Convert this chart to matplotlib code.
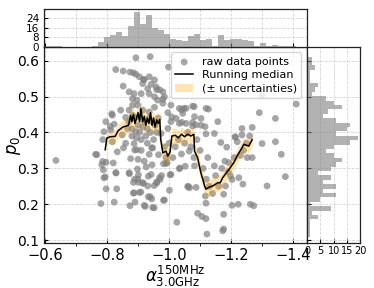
import numpy as np
import matplotlib
matplotlib.use('Agg')
from matplotlib import pyplot as plt

# raw data points (alpha index, p0)
alpha_pts = [-0.893, -0.939, -0.998, -0.828, -0.852, -0.874, -0.885, -0.893, -0.917, -0.852,
             -0.871, -0.887, -0.882, -0.896, -0.882, -0.871, -0.844, -0.817, -0.86, -0.796,
             -0.823, -0.882, -0.79, -0.812, -0.849, -0.893, -0.866, -0.887, -0.817, -0.96,
             -0.98, -1.041, -1.048, -1.009, -0.815, -0.81, -0.786, -0.853, -0.896, -0.944,
             -0.966, -0.635, -0.767, -0.786, -0.82, -0.783, -0.797, -0.788, -0.794, -0.829,
             -0.797, -0.831, -0.872, -0.898, -0.901, -0.885, -0.901, -0.887, -0.909, -0.917,
             -0.926, -0.933, -0.952, -0.96, -0.971, -0.976, -0.982, -0.99, -1.003, -1.001,
             -0.933, -0.944, -0.952, -0.89, -0.874, -0.923, -0.982, -1.025, -0.78, -0.823,
             -1.035, -1.052, -1.062, -0.763, -0.833, -0.876, -0.889, -0.828, -0.871, -0.79,
             -0.889, -0.9, -0.885, -0.947, -0.936, -0.942, -0.969, -0.96, -0.931, -0.915,
             -0.904, -0.939, -0.92, -0.947, -0.985, -1.006, -0.994, -1.033, -1.06, -1.066,
             -1.087, -1.119, -1.117, -1.092, -1.106, -1.119, -1.122, -1.173, -1.125, -1.146,
             -1.082, -1.065, -1.012, -1.3, -1.362, -1.375, -1.316, -1.238, -1.225, -1.203,
             -1.182, -1.176, -1.203, -1.223, -1.262, -1.273, -1.176, -1.176, -1.252, -1.268,
             -1.23, -1.193, -1.198, -1.3, -1.41, -1.291, -1.343, -1.235, -1.268, -1.235,
             -1.214, -1.22, -1.343, -1.081, -1.127, -1.041, -1.076, -1.087, -1.116, -1.213,
             -1.167, -1.186, -0.904, -0.92, -0.936, -0.953, -0.915, -0.942, -0.931, -0.958,
             -0.969, -0.91, -0.936, -0.953, -0.98, -0.985, -0.963, -0.98, -1.006, -1.033,
             -1.055, -1.076, -1.119, -1.044, -0.996, -1.023, -1.082, -1.103, -1.006, -1.033,
             -1.055, -1.076, -1.103, -1.157, -1.119, -1.146, -0.996, -0.974, -0.899, -0.915,
             -0.936, -0.904, -0.953, -0.87, -0.88, -0.89, -0.9, -0.905, -0.91, -0.915,
             -0.92, -0.925, -0.93, -0.935, -0.94, -0.945, -0.95, -0.955, -0.96, -0.965,
             -0.895, -0.88, -0.86, -0.9, -0.92, -0.945, -0.91, -0.93, -0.985, -0.99,
             -1.0, -1.02, -1.03, -1.05, -1.06, -1.07, -1.09, -1.1, -1.11, -1.12,
             -1.13, -1.14, -1.15, -1.16, -1.17, -1.18, -1.19, -1.21, -1.24, -1.25,
             -1.26, -1.08, -1.04]
p0_pts = [0.608, 0.611, 0.582, 0.575, 0.571, 0.568, 0.566, 0.562, 0.548, 0.529,
          0.513, 0.508, 0.494, 0.49, 0.476, 0.462, 0.462, 0.448, 0.442, 0.43,
          0.423, 0.448, 0.402, 0.407, 0.393, 0.402, 0.411, 0.369, 0.374, 0.519,
          0.493, 0.463, 0.467, 0.443, 0.452, 0.417, 0.38, 0.357, 0.352, 0.357,
          0.338, 0.322, 0.338, 0.319, 0.315, 0.31, 0.317, 0.296, 0.276, 0.287,
          0.243, 0.243, 0.285, 0.298, 0.282, 0.261, 0.261, 0.232, 0.234, 0.258,
          0.304, 0.278, 0.252, 0.259, 0.269, 0.28, 0.313, 0.313, 0.282, 0.239,
          0.221, 0.215, 0.19, 0.206, 0.196, 0.194, 0.211, 0.15, 0.202, 0.206,
          0.301, 0.306, 0.25, 0.339, 0.346, 0.327, 0.351, 0.288, 0.288, 0.274,
          0.27, 0.27, 0.231, 0.357, 0.339, 0.283, 0.274, 0.262, 0.251, 0.26,
          0.233, 0.221, 0.197, 0.191, 0.212, 0.283, 0.316, 0.299, 0.249, 0.246,
          0.247, 0.203, 0.223, 0.175, 0.166, 0.16, 0.117, 0.126, 0.33, 0.307,
          0.307, 0.348, 0.33, 0.369, 0.339, 0.277, 0.251, 0.256, 0.274, 0.269,
          0.251, 0.228, 0.197, 0.2, 0.2, 0.196, 0.172, 0.131, 0.33, 0.33,
          0.336, 0.316, 0.279, 0.504, 0.479, 0.455, 0.439, 0.411, 0.414, 0.393,
          0.386, 0.374, 0.374, 0.472, 0.465, 0.428, 0.428, 0.421, 0.416, 0.388,
          0.372, 0.359, 0.555, 0.547, 0.555, 0.546, 0.536, 0.534, 0.522, 0.527,
          0.519, 0.508, 0.508, 0.499, 0.513, 0.499, 0.49, 0.481, 0.476, 0.467,
          0.467, 0.473, 0.467, 0.453, 0.455, 0.439, 0.444, 0.439, 0.43, 0.425,
          0.425, 0.418, 0.42, 0.43, 0.396, 0.397, 0.411, 0.397, 0.476, 0.462,
          0.457, 0.444, 0.47, 0.43, 0.41, 0.44, 0.42, 0.4, 0.38, 0.415,
          0.43, 0.39, 0.41, 0.44, 0.4, 0.43, 0.38, 0.42, 0.4, 0.44,
          0.385, 0.39, 0.37, 0.325, 0.32, 0.31, 0.35, 0.37, 0.36, 0.33,
          0.37, 0.36, 0.38, 0.37, 0.4, 0.36, 0.38, 0.35, 0.3, 0.27,
          0.25, 0.23, 0.28, 0.25, 0.3, 0.32, 0.29, 0.33, 0.35, 0.37,
          0.39, 0.33, 0.34]

# running median and its uncertainty
med_alpha = [-0.794, -0.799, -0.81, -0.826, -0.836, -0.851, -0.869, -0.876, -0.88, -0.885,
             -0.89, -0.895, -0.9, -0.905, -0.909, -0.915, -0.92, -0.925, -0.93, -0.935,
             -0.94, -0.945, -0.95, -0.955, -0.96, -0.965, -0.97, -0.973, -0.98, -0.99,
             -0.996, -1.003, -1.009, -1.02, -1.03, -1.04, -1.05, -1.06, -1.07, -1.08,
             -1.082, -1.092, -1.1, -1.105, -1.109, -1.115, -1.119, -1.13, -1.141, -1.157,
             -1.165, -1.173, -1.193, -1.209, -1.219, -1.235, -1.241, -1.257, -1.268]
med_p0 = [0.352, 0.384, 0.388, 0.389, 0.405, 0.415, 0.42, 0.447, 0.43, 0.45,
          0.425, 0.44, 0.455, 0.43, 0.466, 0.43, 0.445, 0.42, 0.44, 0.425,
          0.455, 0.42, 0.44, 0.415, 0.435, 0.425, 0.436, 0.38, 0.343, 0.348,
          0.334, 0.345, 0.39, 0.392, 0.385, 0.395, 0.388, 0.395, 0.39, 0.395,
          0.348, 0.33, 0.297, 0.28, 0.269, 0.25, 0.242, 0.248, 0.251, 0.26,
          0.26, 0.274, 0.297, 0.316, 0.334, 0.357, 0.367, 0.362, 0.38]
med_err = [0.016, 0.016, 0.017, 0.018, 0.019, 0.02, 0.022, 0.024, 0.025, 0.024,
           0.025, 0.024, 0.024, 0.025, 0.024, 0.025, 0.024, 0.025, 0.024, 0.025,
           0.024, 0.025, 0.024, 0.025, 0.024, 0.024, 0.024, 0.022, 0.022, 0.022,
           0.022, 0.022, 0.022, 0.02, 0.02, 0.02, 0.02, 0.02, 0.02, 0.02,
           0.022, 0.022, 0.022, 0.022, 0.022, 0.022, 0.022, 0.022, 0.022, 0.022,
           0.022, 0.022, 0.02, 0.02, 0.02, 0.018, 0.018, 0.018, 0.018]

# marginal histograms (counts)
top_edges = np.linspace(-0.598, -1.43, 44)
top_counts = [1, 1, 1, 0, 0, 0, 0, 0, 1, 4, 8, 10, 13, 9, 18, 29, 19, 27, 16, 14,
              11, 7, 6, 5, 9, 11, 6, 7, 1, 10, 6, 7, 7, 6, 5, 1, 3, 1, 2, 1,
              1, 1, 0]
right_edges = np.linspace(0.109, 0.611, 42)
right_counts_top_down = [2, 2, 3, 1, 1, 1, 4, 3, 2, 7, 10, 13, 8, 6, 11, 16, 15, 11, 19, 16,
                         10, 7, 10, 13, 11, 9, 4, 9, 6, 11, 6, 11, 5, 1, 9, 2, 4, 1, 1, 1, 1]
right_counts = right_counts_top_down[::-1]

fig = plt.figure(figsize=(3.74, 2.88), dpi=100)
ax = fig.add_axes([0.118, 0.156, 0.703, 0.681])
axt = fig.add_axes([0.118, 0.837, 0.703, 0.132], sharex=ax)
axr = fig.add_axes([0.821, 0.156, 0.142, 0.681], sharey=ax)

grid_kw = dict(color='#d4d4d4', linestyle='--', linewidth=0.6)

ax.scatter(alpha_pts, p0_pts, s=24, color='gray', alpha=0.7, edgecolors='none',
           label='raw data points', zorder=2)
med = np.array(med_p0)
err = np.array(med_err)
ax.fill_between(med_alpha, med - err, med + err, color='orange', alpha=0.3,
                linewidth=0, label='(± uncertainties)', zorder=3)
ax.plot(med_alpha, med_p0, color='k', lw=1.1, label='Running median', zorder=4)

ax.set_xlim(-0.597, -1.445)
ax.set_ylim(0.092, 0.638)
ax.set_xticks([-0.6, -0.8, -1.0, -1.2, -1.4])
ax.set_yticks([0.1, 0.2, 0.3, 0.4, 0.5, 0.6])
ax.grid(True, **grid_kw)
ax.set_axisbelow(True)
ax.tick_params(direction='in', labelsize=10.5, length=3)
ax.tick_params(axis='y', labelsize=10)
ax.set_xlabel(r'$\alpha^{\rm 150MHz}_{\rm 3.0GHz}$', fontsize=12, labelpad=1)
ax.set_ylabel(r'$p_0$', fontsize=12)
ax.yaxis.set_label_coords(-0.082, 0.5)

h, l = ax.get_legend_handles_labels()
order = [l.index('raw data points'), l.index('Running median'), l.index('(± uncertainties)')]
ax.legend([h[i] for i in order], [l[i] for i in order], loc='upper right',
          fontsize=8, scatterpoints=1, handlelength=1.6, borderpad=0.4,
          labelspacing=0.3)

axt.bar(top_edges[:-1], top_counts, width=np.diff(top_edges), align='edge',
        color='gray', alpha=0.6, linewidth=0)
axt.set_ylim(0, 32)
axt.set_yticks([0, 8, 16, 24])
axt.set_xticks(np.arange(-0.6, -1.45, -0.1), minor=True)
axt.grid(True, which='both', **grid_kw)
axt.set_axisbelow(True)
axt.tick_params(direction='in', labelsize=7.5, length=3, labelbottom=False)
axt.tick_params(which='minor', length=0)

axr.barh(right_edges[:-1], right_counts, height=np.diff(right_edges), align='edge',
         color='gray', alpha=0.6, linewidth=0)
axr.set_xlim(0, 20)
axr.set_xticks([0, 5, 10, 15, 20])
axr.grid(True, **grid_kw)
axr.set_axisbelow(True)
axr.tick_params(direction='in', labelsize=7, length=3, labelleft=False, pad=2)

for a in (ax, axt, axr):
    for s in a.spines.values():
        s.set_color('#222222')
        s.set_linewidth(0.9)

fig.savefig('out.png', dpi=100)
